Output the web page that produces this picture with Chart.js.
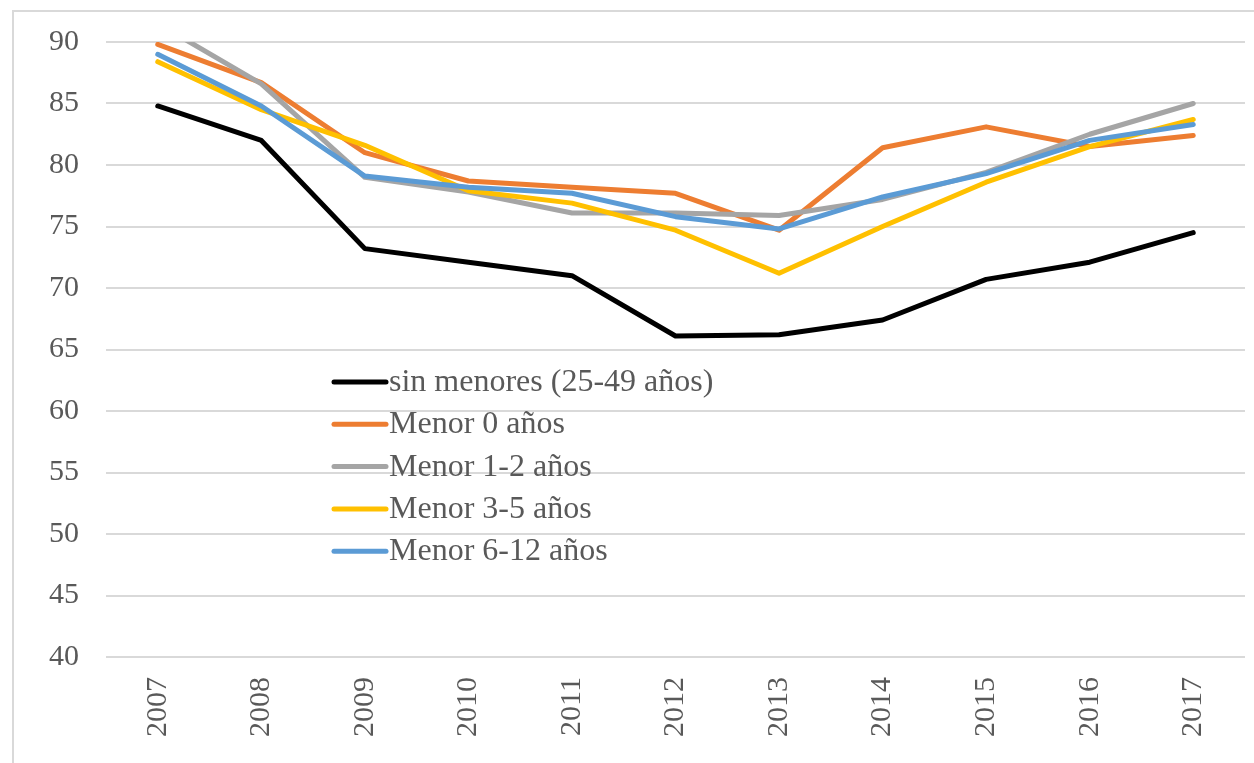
<!DOCTYPE html>
<html>
<head>
<meta charset="utf-8">
<script src="https://cdn.jsdelivr.net/npm/chart.js@4/dist/chart.umd.min.js"></script>
<style>
  body { margin: 0; background: #fff; }
  canvas { display: block; }
</style>
</head>
<body>
<canvas id="chart" width="1254" height="763"></canvas>
<script>
// Values
const years = ['2007', '2008', '2009', '2010', '2011', '2012', '2013', '2014', '2015', '2016', '2017'];
const sinMenores = [84.8, 82.0, 73.2, 72.1, 71.0, 66.1, 66.2, 67.4, 70.7, 72.1, 74.5];
const menor0 = [89.8, 86.7, 81.0, 78.7, 78.2, 77.7, 74.7, 81.4, 83.1, 81.5, 82.4];
const menor1a2 = [91.5, 86.6, 79.0, 77.8, 76.1, 76.1, 75.9, 77.2, 79.4, 82.5, 85.0];
const menor3a5 = [88.4, 84.5, 81.6, 77.9, 76.9, 74.7, 71.2, 75.0, 78.6, 81.5, 83.7];
const menor6a12 = [89.0, 84.8, 79.1, 78.2, 77.7, 75.8, 74.8, 77.4, 79.3, 82.0, 83.3];

const seriesNames = ['sin menores (25-49 años)', 'Menor 0 años', 'Menor 1-2 años', 'Menor 3-5 años', 'Menor 6-12 años'];
const seriesValues = [sinMenores, menor0, menor1a2, menor3a5, menor6a12];
const seriesColors = ['#000000', '#ED7D31', '#A5A5A5', '#FFC000', '#5B9BD5'];

const FONT = "'Liberation Serif', 'Times New Roman', serif";
const TEXT = '#595959';
const GRID = '#d9d9d9';

// frame lines of the original chart box (top and left edges)
const framePlugin = {
  id: 'frame',
  beforeDraw(chart) {
    const ctx = chart.ctx;
    ctx.save();
    ctx.strokeStyle = GRID;
    ctx.lineWidth = 2;
    ctx.beginPath();
    ctx.moveTo(13, 763);
    ctx.lineTo(13, 11);
    ctx.lineTo(1254, 11);
    ctx.stroke();
    ctx.restore();
  },
};

// legend placed inside the plot, one row per series
const legendPlugin = {
  id: 'innerLegend',
  afterDraw(chart) {
    const ctx = chart.ctx;
    const x0 = 332, x1 = 388, top = 382, step = 42.3;
    ctx.save();
    ctx.font = '32px ' + FONT;
    ctx.textBaseline = 'alphabetic';
    ctx.lineCap = 'round';
    chart.data.datasets.forEach((ds, i) => {
      const y = top + i * step;
      ctx.strokeStyle = ds.borderColor;
      ctx.lineWidth = 5;
      ctx.beginPath();
      ctx.moveTo(x0 + 2, y);
      ctx.lineTo(x1 - 2, y);
      ctx.stroke();
      ctx.fillStyle = TEXT;
      ctx.fillText(ds.label, x1 + 1, y + 9);
    });
    ctx.restore();
  },
};

const datasets = seriesNames.map((name, i) => ({
  label: name,
  data: seriesValues[i],
  borderColor: seriesColors[i],
  backgroundColor: seriesColors[i],
  borderWidth: 5,
  borderCapStyle: 'round',
  borderJoinStyle: 'round',
  pointRadius: 0,
  tension: 0,
  clip: 0,
  order: seriesNames.length - i,
}));

const ctx = document.getElementById('chart').getContext('2d');
const chart = new Chart(ctx, {
  type: 'line',
  data: {
    labels: years,
    datasets: datasets,
  },
  options: {
    responsive: false,
    animation: false,
    layout: {
      padding: { left: 0, right: 9, top: 42, bottom: 0 },
    },
    plugins: {
      legend: { display: false },
      tooltip: { enabled: false },
    },
    scales: {
      x: {
        offset: true,
        grid: { display: false, drawTicks: false },
        border: { display: false },
        ticks: {
          color: TEXT,
          font: { family: FONT, size: 30 },
          minRotation: 90,
          maxRotation: 90,
          padding: 20,
          autoSkip: false,
        },
        afterFit(scale) { scale.height = 106; },
      },
      y: {
        min: 40,
        max: 90,
        grid: { color: GRID, lineWidth: 2, drawTicks: false },
        border: { display: false },
        ticks: {
          stepSize: 5,
          color: TEXT,
          font: { family: FONT, size: 30 },
          padding: 27,
        },
        afterFit(scale) {
          scale.width = 106;
          scale.paddingTop = 0;
          scale.paddingBottom = 0;
        },
      },
    },
  },
  plugins: [framePlugin, legendPlugin],
});
</script>
</body>
</html>
